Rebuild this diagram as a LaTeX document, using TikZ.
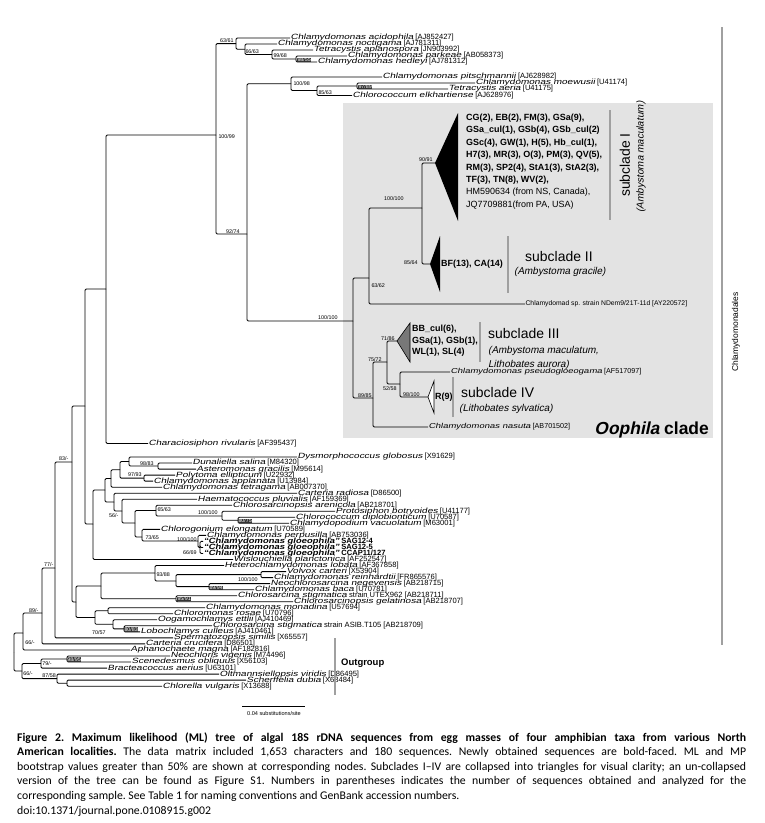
\documentclass[tikz,border=0pt]{standalone}
\usepackage{fontspec}
\setmainfont{Liberation Sans}
\newfontfamily\slf{Liberation Sans}[FakeSlant=0.21]
\newfontfamily\slfw{Liberation Sans}[FakeSlant=0.21,FakeStretch=1.32]
\newfontfamily\slbfw{Liberation Sans Bold}[FakeSlant=0.21,FakeStretch=1.25]
\newfontfamily\slbf{Liberation Sans Bold}[FakeSlant=0.21]
\newfontfamily\capfont{Carlito}
\newcommand\taxn[1]{{\slfw #1}}
\newcommand\taxb[1]{{\slbfw #1}}
\definecolor{boxgray}{RGB}{227,227,227}
\definecolor{bargray}{RGB}{160,160,160}
\definecolor{trigray}{RGB}{120,120,120}
\newcommand\E[2]{\draw[tree] (#1) |- (#2);}
\begin{document}
\begin{tikzpicture}[x=1bp,y=-1bp,
  tree/.style={line width=0.85bp, rounded corners=1.2bp},
  tx/.style={font=\fontsize{7.6}{8}\selectfont, inner sep=0.4bp, anchor=west},
  txs/.style={font=\fontsize{7.2}{8}\selectfont, inner sep=0.4bp, anchor=west},
  bs/.style={font=\fontsize{5.4}{6}\selectfont, inner sep=0.3bp},
  bsd/.style={bs, fill=black!80, text=white},
  bold9/.style={font=\fontsize{9}{12.5}\selectfont\bfseries, inner sep=0, align=left},
  subt/.style={font=\fontsize{14}{16}\selectfont, inner sep=0},
  subh/.style={font=\fontsize{10}{14}\selectfont\slf, inner sep=0, align=left},
  bar/.style={bargray, line width=2.6bp},
  capline/.style={inner sep=0, anchor=base west}]
\useasboundingbox (0,0) rectangle (765,823);
\fill[white] (0,0) rectangle (765,823);
\fill[boxgray] (343,103) rectangle (713,438);

% ---------------- top clade
\coordinate (n10099) at (216,135);
\coordinate (n6361) at (236,43.6);
\coordinate (n6663) at (245,49.3);
\coordinate (n9968) at (272,54.5);
\coordinate (n9855) at (296,59);
\node[tx] (acid) at (290,38) {\taxn{Chlamydomonas acidophila} [AJ852427]};
\node[tx] (noct) at (277,44) {\taxn{Chlamydomonas noctigama} [AJ781311]};
\node[tx] (aplan) at (313,50) {\taxn{Tetracystis aplanospora} [JN903992]};
\node[tx] (park) at (347,56) {\taxn{Chlamydomonas parkeae} [AB058373]};
\node[tx] (hedl) at (317,62) {\taxn{Chlamydomonas hedleyi} [AJ781312]};
\E{n10099}{n6361}
\E{n6361}{acid.west}
\E{n6361}{n6663}
\E{n6663}{noct.west}
\E{n6663}{n9968}
\E{n9968}{aplan.west}
\E{n9968}{n9855}
\E{n9855}{park.west}
\E{n9855}{hedl.west}

\coordinate (n9274) at (247,234);
\coordinate (n10098) at (291,83.75);
\coordinate (n8563) at (317,90.5);
\coordinate (n9789) at (357,86);
\node[tx] (pits) at (382,77) {\taxn{Chlamydomonas pitschmannii} [AJ628982]};
\node[tx] (moew) at (475,83) {\taxn{Chlamydomonas moewusii} [U41174]};
\node[tx] (aeri) at (448,89) {\taxn{Tetracystis aeria} [U41175]};
\node[tx] (elkh) at (352,95.5) {\taxn{Chlorococcum elkhartiense} [AJ628976]};
\E{n10099}{n9274}
\E{n9274}{n10098}
\E{n10098}{pits.west}
\E{n10098}{n8563}
\E{n8563}{n9789}
\E{n8563}{elkh.west}
\E{n9789}{moew.west}
\E{n9789}{aeri.west}

% ---------------- Oophila clade
\coordinate (nOo) at (353,321);
\coordinate (n6362) at (369,278);
\coordinate (nsc12) at (422,208);
\coordinate (tip1) at (435,163);
\coordinate (tip2) at (430,264);
\coordinate (n8985) at (373,398);
\coordinate (n7572) at (387,362);
\coordinate (tip3) at (397,341);
\coordinate (n5258) at (400,384);
\coordinate (tip4) at (428,397);
\node[tx, font=\fontsize{6.8}{8}\selectfont] (ndem) at (525,304) {Chlamydomad sp. strain NDem9/21T-11d [AY220572]};
\node[txs] (nasu) at (428,427) {\taxn{Chlamydomonas nasuta} [AB701502]};
\node[txs] (pseu) at (450,372) {\taxn{Chlamydomonas pseudogloeogama} [AF517097]};
\E{n9274}{nOo}
\E{nOo}{n6362}
\E{nOo}{n8985}
\E{n6362}{nsc12}
\E{n6362}{ndem.west}
\E{nsc12}{tip1}
\E{nsc12}{tip2}
\E{n8985}{n7572}
\E{n8985}{nasu.west}
\E{n7572}{tip3}
\E{n7572}{n5258}
\E{n5258}{pseu.west}
\E{n5258}{tip4}

\fill[black] (tip1) -- (458,113) -- (458,221) -- cycle;
\fill[black] (tip2) -- (440,236) -- (440,292) -- cycle;
\filldraw[fill=trigray, draw=black, line width=0.6bp] (tip3) -- (410,323) -- (410,362) -- cycle;
\filldraw[fill=white, draw=black, line width=0.6bp] (tip4) -- (434,381) -- (434,413) -- cycle;

\node[bold9, anchor=north west] (sc1txt) at (466,113.5) {CG(2), EB(2), FM(3), GSa(9),\\GSa\_cul(1), GSb(4), GSb\_cul(2)\\GSc(4), GW(1), H(5), Hb\_cul(1),\\H7(3), MR(3), O(3), PM(3), QV(5),\\RM(3), SP2(4), StA1(3), StA2(3),\\TF(3), TN(8), WV(2),\\\mdseries HM590634 (from NS, Canada),\\\mdseries JQ7709881(from PA, USA)};
\node[bold9, anchor=west] (sc2txt) at (441,264) {BF(13), CA(14)};
\node[bold9, anchor=north west, font=\fontsize{9}{11.6}\selectfont\bfseries] (sc3txt) at (412,325) {BB\_cul(6),\\GSa(1), GSb(1),\\WL(1), SL(4)};
\node[bold9, anchor=west] (sc4txt) at (435,397) {R(9)};

\draw[bar] (610,110) -- (610,220);
\draw[bar] (508,236) -- (508,293);
\draw[bar] (480,322) -- (480,362);
\draw[bar] (453,377) -- (453,417);
\node[subt, rotate=90] (sc1) at (625,165) {subclade I};
\node[subh, rotate=90] (sc1h) at (641,157) {(Ambystoma maculatum)};
\node[subt, anchor=base west] (sc2) at (525,261) {subclade II};
\node[subh, anchor=base west] (sc2h) at (514,274) {(Ambystoma gracile)};
\node[subt, anchor=base west] (sc3) at (488,338) {subclade III};
\node[subh, anchor=base west] (sc3h) at (488,353) {(Ambystoma maculatum,};
\node[subh, anchor=base west] (sc3h2) at (488,367) {Lithobates aurora)};
\node[subt, anchor=base west] (sc4) at (461,397) {subclade IV};
\node[subh, anchor=base west] (sc4h) at (459,411) {(Lithobates sylvatica)};
\node[inner sep=0, anchor=base east, font=\fontsize{17.5}{20}\selectfont\bfseries] (ooc) at (709,434) {{\slbf Oophila} clade};

% ---------------- backbone
\coordinate (n106) at (106,289);
\node[tx] (char) at (148,443.5) {\taxn{Characiosiphon rivularis} [AF395437]};
\E{n106}{n10099}
\E{n106}{char.west}

\coordinate (n86) at (85,406);
\coordinate (n94) at (93,524);
\coordinate (nC) at (105,490);
\coordinate (nB) at (111,478.5);
\coordinate (nA) at (120,469.8);
\coordinate (na) at (129,461.5);
\coordinate (n9883) at (158,466);
\coordinate (n9793) at (144,478.1);
\coordinate (nD) at (114,502);
\coordinate (ne) at (122,511);
\coordinate (ng) at (135,523);
\coordinate (n6563) at (156,510.5);
\coordinate (n100a) at (222,516);
\coordinate (n8075) at (238,520.3);
\coordinate (n7365) at (142,537);
\coordinate (n100b) at (198,541);
\coordinate (n6669) at (200,547.5);

\node[tx] (dysm) at (297,457) {\taxn{Dysmorphococcus globosus} [X91629]};
\node[tx] (duna) at (192,463) {\taxn{Dunaliella salina} [M84320]};
\node[tx] (aste) at (196,469.1) {\taxn{Asteromonas gracilis} [M95614]};
\node[tx] (poly) at (175,475.1) {\taxn{Polytoma ellipticum} [U22932]};
\node[tx] (appl) at (153,481.1) {\taxn{Chlamydomonas applanata} [U13984]};
\node[tx] (tetr) at (162,487.2) {\taxn{Chlamydomonas tetragama} [AB007370]};
\node[tx] (cart) at (297,493.2) {\taxn{Carteria radiosa} [D86500]};
\node[tx] (haem) at (197,499.2) {\taxn{Haematococcus pluvialis} [AF159369]};
\node[tx] (aren) at (232,505.2) {\taxn{Chlorosarcinopsis arenicola} [AB218701]};
\node[tx] (prot) at (335,511.3) {\taxn{Protosiphon botryoides} [U41177]};
\node[tx] (dipl) at (295,517.3) {\taxn{Chlorococcum diplobionticum} [U70587]};
\node[tx] (vacu) at (289,523.3) {\taxn{Chlamydopodium vacuolatum} [M63001]};
\node[tx] (chlg) at (160,529.4) {\taxn{Chlorogonium elongatum} [U70589]};
\node[tx] (perp) at (206,535.4) {\taxn{Chlamydomonas perpusilla} [AB753036]};
\node[tx, font=\fontsize{7.6}{8}\selectfont\bfseries] (gl1) at (203,541.4) {\taxb{“Chlamydomonas gloeophila”} SAG12-4};
\node[tx, font=\fontsize{7.6}{8}\selectfont\bfseries] (gl2) at (203,547.5) {\taxb{“Chlamydomonas gloeophila”} SAG12-5};
\node[tx, font=\fontsize{7.6}{8}\selectfont\bfseries] (gl3) at (203,553.5) {\taxb{“Chlamydomonas gloeophila”} CCAP11/127};
\node[tx] (wisl) at (233,559.5) {\taxn{Wislouchiella planctonica} [AF252547]};

\E{n86}{n106}
\E{n86}{n94}
\E{n94}{nC}
\E{n94}{wisl.west}
\E{nC}{nB}
\E{nC}{nD}
\E{nB}{nA}
\E{nB}{tetr.west}
\E{nA}{na}
\E{nA}{n9793}
\E{na}{dysm.west}
\E{na}{n9883}
\E{n9883}{duna.west}
\E{n9883}{aste.west}
\E{n9793}{poly.west}
\E{n9793}{appl.west}
\E{nD}{cart.west}
\E{nD}{ne}
\E{ne}{haem.west}
\E{ne}{ng}
\E{ng}{n6563}
\E{ng}{n7365}
\E{n6563}{aren.west}
\E{n6563}{n100a}
\E{n100a}{prot.west}
\E{n100a}{n8075}
\E{n8075}{dipl.west}
\E{n8075}{vacu.west}
\E{n7365}{chlg.west}
\E{n7365}{n100b}
\E{n100b}{perp.west}
\E{n100b}{n6669}
\E{n6669}{gl1.west}
\E{n6669}{gl2.west}
\E{n6669}{gl3.west}

% second lower group
\coordinate (n83) at (72,462);
\coordinate (nlc2) at (76,602);
\coordinate (nj) at (101,586);
\coordinate (n9388) at (155,573);
\coordinate (ni) at (176,581);
\coordinate (n100c) at (261,574.6);
\coordinate (n8994) at (209,586.6);
\coordinate (n9591) at (176,598.7);
\coordinate (n7057) at (95,617.5);
\coordinate (nmc) at (108,610.8);
\coordinate (nk) at (113,624.3);
\coordinate (n8083) at (124,628.9);

\node[tx] (hete) at (224,565.5) {\taxn{Heterochlamydomonas lobata} [AF367858]};
\node[tx] (volv) at (286,571.6) {\taxn{Volvox carteri} [X53904]};
\node[tx] (rein) at (273,577.6) {\taxn{Chlamydomonas reinhardtii} [FR865576]};
\node[tx] (neoc) at (270,583.6) {\taxn{Neochlorosarcina negevensis} [AB218715]};
\node[tx] (baca) at (254,589.7) {\taxn{Chlamydomonas baca} [U70781]};
\node[tx] (utex) at (237,595.7) {\taxn{Chlorosarcina stigmatica} strain UTEX962 [AB218711]};
\node[tx] (gela) at (293,601.7) {\taxn{Chlorosarcinopsis gelatinosa} [AB218707]};
\node[tx] (mona) at (205,607.8) {\taxn{Chlamydomonas monadina} [U57694]};
\node[tx] (rosa) at (173,613.8) {\taxn{Chloromonas rosae} [U70796]};
\node[tx] (ooga) at (157,619.8) {\taxn{Oogamochlamys ettlii} [AJ410469]};
\node[tx] (asib) at (212,625.8) {\taxn{Chlorosarcina stigmatica} strain ASIB.T105 [AB218709]};
\node[tx] (lobo) at (140,631.9) {\taxn{Lobochlamys culleus} [AJ410461]};
\node[tx] (sper) at (173,637.9) {\taxn{Spermatozopsis similis} [X65557]};
\node[tx] (cruc) at (145,643.9) {\taxn{Carteria crucifera} [D86501]};
\node[tx] (apha) at (130,650) {\taxn{Aphanochaete magna} [AF182816]};
\node[tx] (neoch) at (170,656) {\taxn{Neochloris vigenis} [M74496]};
\node[tx] (scen) at (131,662) {\taxn{Scenedesmus obliquus} [X56103]};
\node[tx] (brac) at (107,668.1) {\taxn{Bracteacoccus aerius} [U63101]};
\node[tx] (oltm) at (219,674.1) {\taxn{Oltmannsiellopsis viridis} [D86495]};
\node[tx] (sche) at (246,680.1) {\taxn{Scherffelia dubia} [X68484]};
\node[tx] (chlo) at (162,686.2) {\taxn{Chlorella vulgaris} [X13688]};

\E{n83}{n86}
\E{n83}{nlc2}
\E{nlc2}{nj}
\E{nlc2}{n7057}
\E{nj}{n9388}
\E{nj}{n9591}
\E{n9388}{hete.west}
\E{n9388}{ni}
\E{ni}{n100c}
\E{ni}{n8994}
\E{n100c}{volv.west}
\E{n100c}{rein.west}
\E{n8994}{neoc.west}
\E{n8994}{baca.west}
\E{n9591}{utex.west}
\E{n9591}{gela.west}
\E{n7057}{nmc}
\E{n7057}{nk}
\E{nmc}{mona.west}
\E{nmc}{rosa.west}
\E{nk}{ooga.west}
\E{nk}{n8083}
\E{n8083}{asib.west}
\E{n8083}{lobo.west}

\coordinate (n77) at (55,568);
\coordinate (n89) at (42,613);
\coordinate (n66a) at (23,633);
\coordinate (n9895) at (67,659);
\coordinate (n79) at (41,663.5);
\coordinate (nsc) at (67,683.2);
\coordinate (n8758) at (57,678.6);
\coordinate (n66b) at (22,671);
\coordinate (nroot) at (14,652);
\E{n77}{n83}
\E{n77}{sper.west}
\E{n89}{n77}
\E{n89}{cruc.west}
\E{n66a}{n89}
\E{n66a}{apha.west}
\E{n9895}{neoch.west}
\E{n9895}{scen.west}
\E{n79}{n9895}
\E{n79}{brac.west}
\E{nsc}{sche.west}
\E{nsc}{chlo.west}
\E{n8758}{oltm.west}
\E{n8758}{nsc}
\E{n66b}{n79}
\E{n66b}{n8758}
\E{nroot}{n66a}
\E{nroot}{n66b}

% ---------------- support values
\node[bs, anchor=east] at (234,41) {63/61};
\node[bs, anchor=west] at (245,52) {66/63};
\node[bs, anchor=west] at (273,55.5) {99/68};
\node[bsd, anchor=west] at (297,60) {98/55};
\node[bs, anchor=west] at (293,84) {100/98};
\node[bs, anchor=west] at (318,92.5) {85/63};
\node[bsd, anchor=west] at (358,87) {97/89};
\node[bs, anchor=west] at (218,137) {100/99};
\node[bs, anchor=east] at (240,232) {92/74};
\node[bs, anchor=east] at (433,160) {90/91};
\node[bs, anchor=east] at (404,199) {100/100};
\node[bs, anchor=east] at (418,263) {85/64};
\node[bs, anchor=west] at (371,286) {63/62};
\node[bs, anchor=east] at (338,318) {100/100};
\node[bs, anchor=east] at (372,396) {89/85};
\node[bs, anchor=east] at (382,360) {75/72};
\node[bs, anchor=east] at (395,339) {71/86};
\node[bs, anchor=east] at (397,389) {52/58};
\node[bs, anchor=east] at (420,395) {98/100};
\node[bs, anchor=east] at (154,464) {98/83};
\node[bs, anchor=east] at (142,475) {97/93};
\node[bs, anchor=west] at (157,509.5) {65/63};
\node[bs, anchor=east] at (218,513) {100/100};
\node[bsd, anchor=west] at (238,521) {80/75};
\node[bs, anchor=east] at (119,516) {56/-};
\node[bs, anchor=west] at (145,538) {73/65};
\node[bs, anchor=east] at (197,539.5) {100/100};
\node[bs, anchor=east] at (197,552.5) {66/69};
\node[bs, anchor=west] at (156,575) {93/88};
\node[bs, anchor=east] at (258,580) {100/100};
\node[bsd, anchor=west] at (209,588) {89/94};
\node[bsd, anchor=west] at (177,599) {95/91};
\node[bs, anchor=east] at (106,633) {70/57};
\node[bsd, anchor=west] at (124,629.5) {80/83};
\node[bs, anchor=east] at (69,459) {83/-};
\node[bs, anchor=east] at (54,565) {77/-};
\node[bs, anchor=east] at (39,611) {89/-};
\node[bs, anchor=west] at (25,643) {66/-};
\node[bsd, anchor=west] at (67,659.5) {98/95};
\node[bs, anchor=west] at (42,664) {79/-};
\node[bs, anchor=west] at (23,674) {66/-};
\node[bs, anchor=west] at (42,676) {87/58};

% ---------------- group bars
\draw[bar] (722,27) -- (722,645);
\node[rotate=90, font=\fontsize{8.5}{10}\selectfont, inner sep=0] (chlm) at (736,332) {Chlamydomonadales};
\draw[bar] (335,638) -- (335,695);
\node[anchor=west, font=\fontsize{9.5}{11}\selectfont\bfseries, inner sep=0] (outg) at (341,663) {Outgroup};
\coordinate (sbl) at (242,706);
\coordinate (sbr) at (305,706);
\draw[line width=0.6bp] (sbl) -- (sbr);
\node[font=\fontsize{5.6}{6}\selectfont, inner sep=0] (sbt) at (274,713) {0.04 substitutions/site};

% ---------------- caption
\node[capline] (c1) at (17,741) {\capfont\frenchspacing\fontsize{11.8}{13}\selectfont\bfseries\makebox[729bp][s]{Figure 2. Maximum likelihood (ML) tree of algal 18S rDNA sequences from egg masses of four amphibian taxa from various North}};
\node[capline] (c2) at (17,755.6) {\capfont\frenchspacing\fontsize{11.8}{13}\selectfont\makebox[729bp][s]{\textbf{American localities.} The data matrix included 1,653 characters and 180 sequences. Newly obtained sequences are bold-faced. ML and MP}};
\node[capline] (c3) at (17,770.2) {\capfont\frenchspacing\fontsize{11.8}{13}\selectfont\makebox[729bp][s]{bootstrap values greater than 50\% are shown at corresponding nodes. Subclades I–IV are collapsed into triangles for visual clarity; an un-collapsed}};
\node[capline] (c4) at (17,784.8) {\capfont\frenchspacing\fontsize{11.8}{13}\selectfont\makebox[729bp][s]{version of the tree can be found as Figure S1. Numbers in parentheses indicates the number of sequences obtained and analyzed for the}};
\node[capline] (c5) at (17,799.4) {\capfont\frenchspacing\fontsize{11.8}{13}\selectfont corresponding sample. See Table 1 for naming conventions and GenBank accession numbers.};
\node[capline] (c6) at (17,814) {\capfont\frenchspacing\fontsize{11.8}{13}\selectfont doi:10.1371/journal.pone.0108915.g002};
\end{tikzpicture}
\end{document}
